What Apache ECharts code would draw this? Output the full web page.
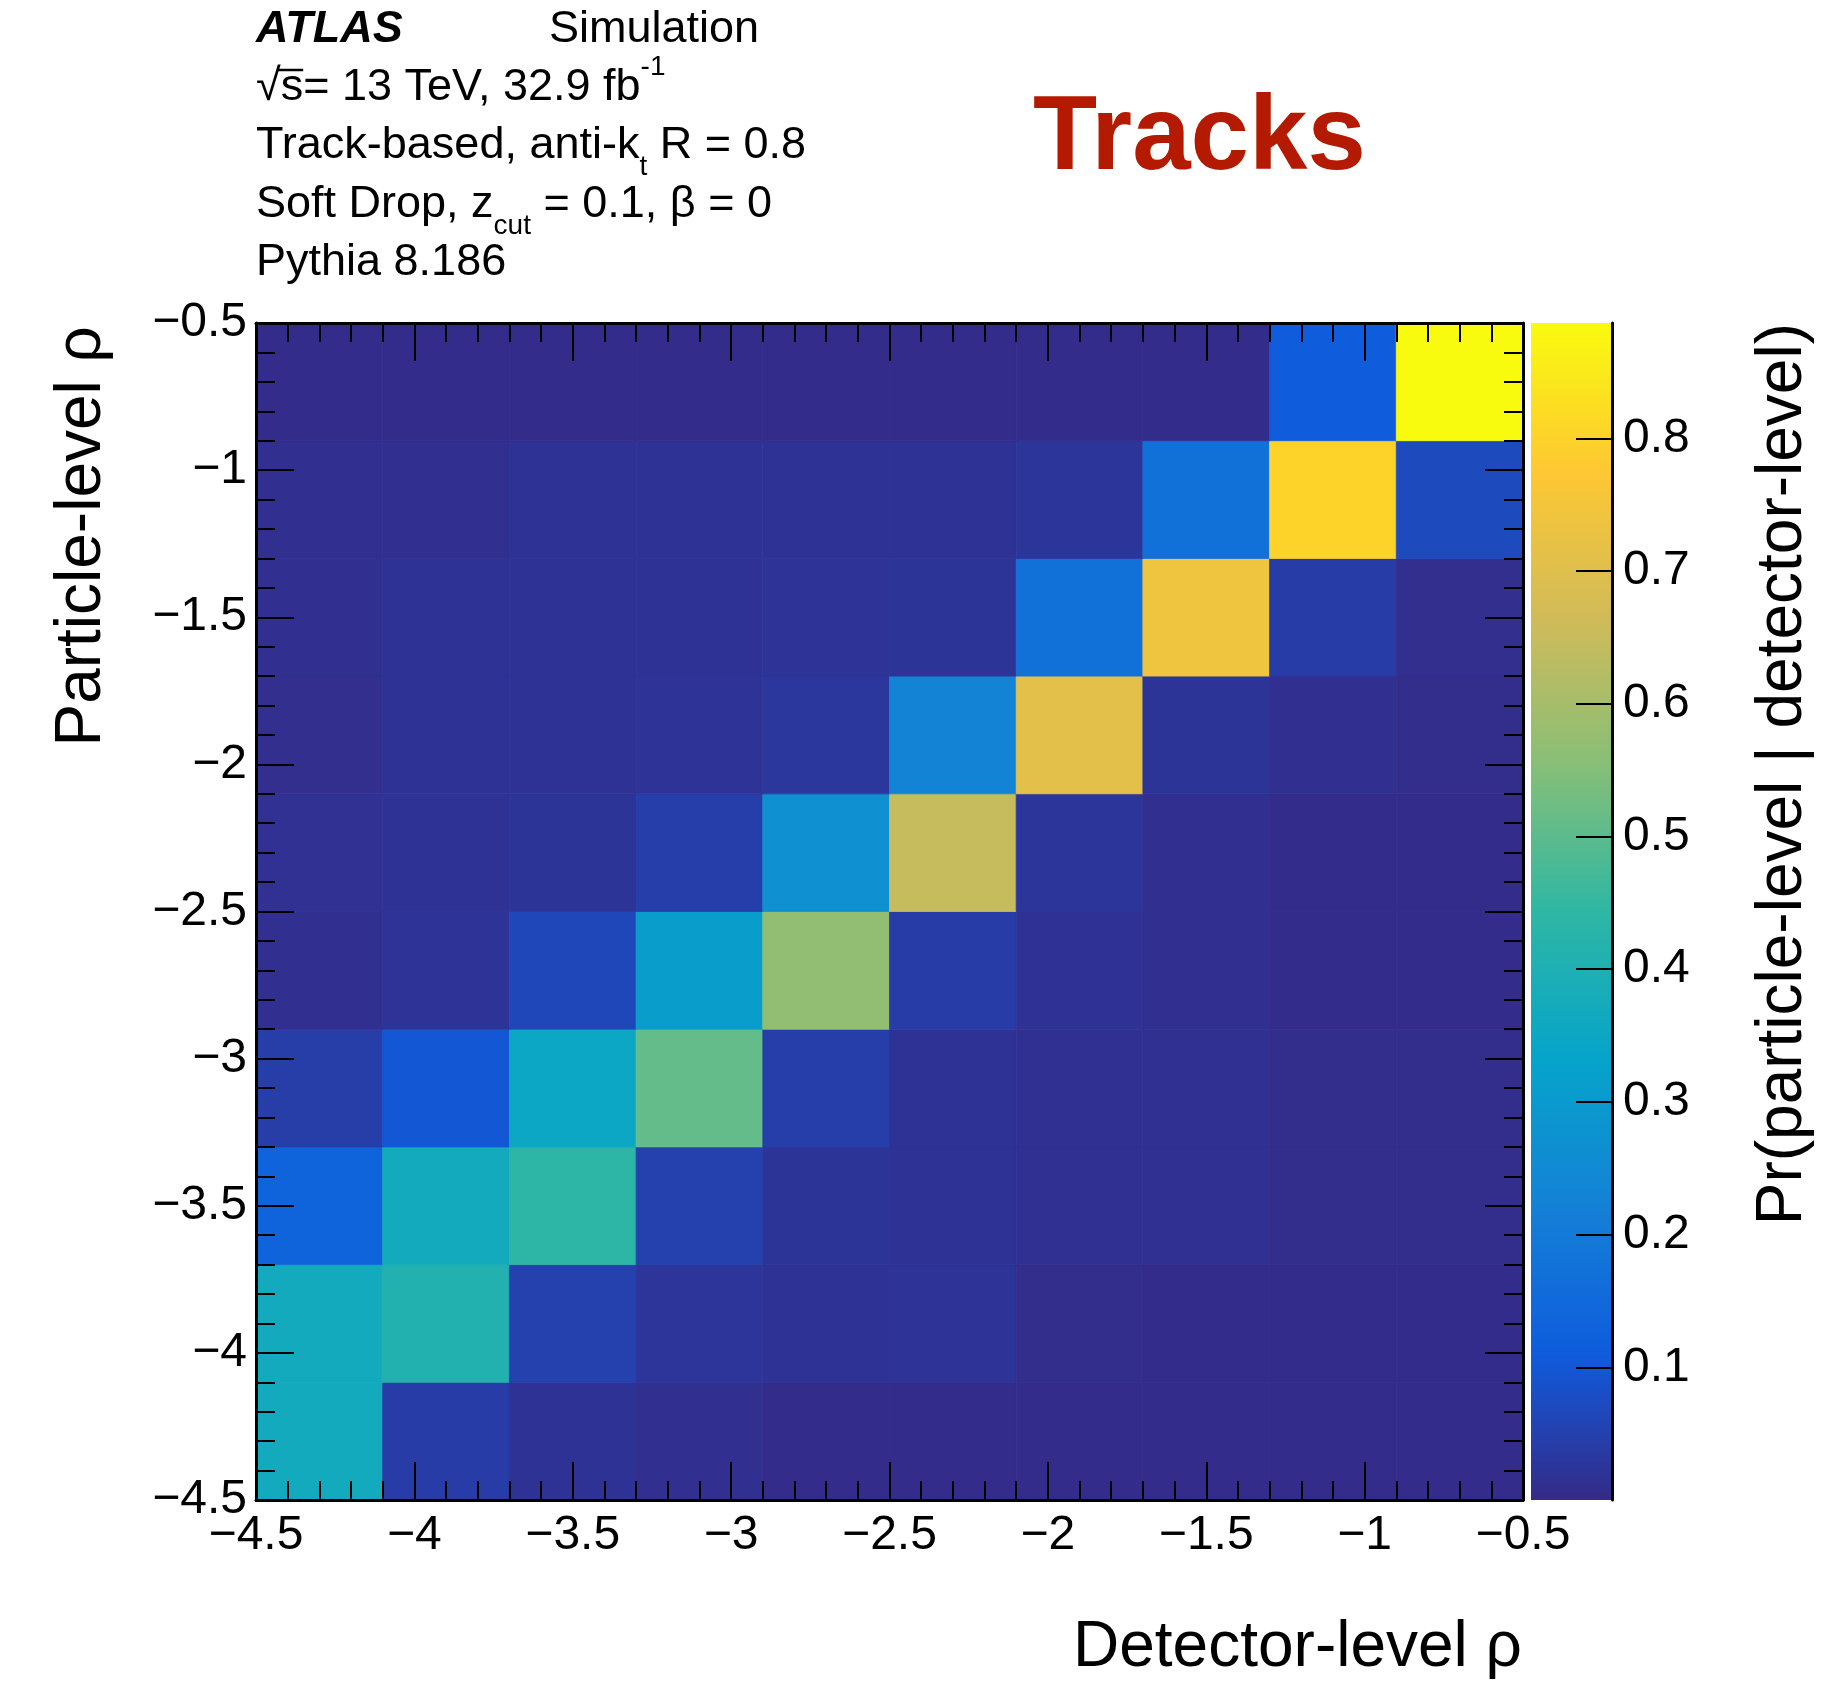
<!DOCTYPE html>
<html>
<head>
<meta charset="utf-8">
<script src="https://cdn.jsdelivr.net/npm/echarts@6/dist/echarts.min.js"></script>
<style>
  html, body { margin: 0; padding: 0; background: #ffffff; }
  #chart { width: 1824px; height: 1685px; }
</style>
</head>
<body>
<div id="chart"></div>
<script>
// Bin edges in rho, identical for detector level (x) and particle level (y)
const binEdges = [-4.5, -4.1, -3.7, -3.3, -2.9, -2.5, -2.1, -1.7, -1.3, -0.9, -0.5];

// Pr(particle-level | detector-level): one array per particle-level bin,
// each listing the detector-level bins from -4.5 to -0.5
const particle_m45_m41 = [0.370, 0.040, 0.018, 0.012, 0.005, 0.004, 0.004, 0.004, 0.004, 0.004];
const particle_m41_m37 = [0.370, 0.410, 0.050, 0.024, 0.018, 0.020, 0.006, 0.005, 0.005, 0.005];
const particle_m37_m33 = [0.135, 0.370, 0.440, 0.050, 0.022, 0.018, 0.014, 0.014, 0.006, 0.006];
const particle_m33_m29 = [0.042, 0.100, 0.350, 0.510, 0.045, 0.018, 0.014, 0.014, 0.006, 0.006];
const particle_m29_m25 = [0.012, 0.020, 0.065, 0.310, 0.570, 0.040, 0.017, 0.012, 0.005, 0.005];
const particle_m25_m21 = [0.015, 0.018, 0.022, 0.045, 0.270, 0.650, 0.025, 0.012, 0.005, 0.005];
const particle_m21_m17 = [0.010, 0.018, 0.018, 0.020, 0.028, 0.230, 0.710, 0.022, 0.012, 0.006];
const particle_m17_m13 = [0.012, 0.018, 0.018, 0.018, 0.020, 0.022, 0.170, 0.740, 0.040, 0.010];
const particle_m13_m09 = [0.012, 0.012, 0.018, 0.018, 0.018, 0.018, 0.025, 0.170, 0.800, 0.070];
const particle_m09_m05 = [0.005, 0.005, 0.005, 0.005, 0.005, 0.005, 0.005, 0.005, 0.110, 0.887];

// bottom to top
const particleRows = [
  particle_m45_m41, particle_m41_m37, particle_m37_m33, particle_m33_m29, particle_m29_m25,
  particle_m25_m21, particle_m21_m17, particle_m17_m13, particle_m13_m09, particle_m09_m05
];

// z range of the colour scale and its labelled ticks
const zRange = [0, 0.887];
const zTicks = [0.1, 0.2, 0.3, 0.4, 0.5, 0.6, 0.7, 0.8];

// ROOT "bird" palette stops
const birdPalette = ['#352a87', '#0f5cdd', '#1481d6', '#06a4ca', '#2eb7a4',
                     '#87bf77', '#d1bb59', '#fec832', '#f9fb0e'];

const FONT = '"Liberation Sans", Arial, Helvetica, sans-serif';
const minusFmt = v => (v < 0 ? '\u2212' : '') + String(Math.abs(+v.toFixed(3)));

// cells: [xLow, xHigh, yLow, yHigh, probability]
const cells = [];
particleRows.forEach((row, i) => {
  row.forEach((p, j) => {
    cells.push([binEdges[j], binEdges[j + 1], binEdges[i], binEdges[i + 1], p]);
  });
});

const chart = echarts.init(document.getElementById('chart'), null, { renderer: 'canvas' });

const tickStyle = { color: '#000', width: 2 };
function frameAxis(extra) {
  return Object.assign({
    gridIndex: 0,
    type: 'value',
    z: 10,
    min: binEdges[0],
    max: binEdges[binEdges.length - 1],
    interval: 0.5,
    axisLine: { show: true, onZero: false, lineStyle: { color: '#000', width: 3 } },
    axisTick: { show: true, inside: true, length: 38, lineStyle: tickStyle },
    minorTick: { show: true, splitNumber: 5, length: 19, lineStyle: tickStyle },
    splitLine: { show: false },
    minorSplitLine: { show: false }
  }, extra);
}

const labelStyle = { color: '#000', fontSize: 48, fontFamily: FONT };

const rich = {
  n: { fontSize: 45, fontFamily: FONT, lineHeight: 70, verticalAlign: 'middle', color: '#000' },
  bi: { fontSize: 45, fontFamily: FONT, fontStyle: 'italic', fontWeight: 'bold', lineHeight: 70, verticalAlign: 'middle', color: '#000' },
  sup: { fontSize: 28, fontFamily: FONT, lineHeight: 40, verticalAlign: 'top', color: '#000' },
  sub: { fontSize: 28, fontFamily: FONT, lineHeight: 28, verticalAlign: 'bottom', color: '#000' },
  sub2: { fontSize: 28, fontFamily: FONT, lineHeight: 20, verticalAlign: 'bottom', color: '#000' }
};
function infoLine(text, x, baseline) {
  return { type: 'text', x: x, y: baseline - 49, silent: true,
           style: { text: text, rich: rich, align: 'left', verticalAlign: 'top' } };
}

// overbar of the square root, placed from measured glyph widths
const measureCtx = document.createElement('canvas').getContext('2d');
measureCtx.font = '45px ' + FONT;
const rootW = measureCtx.measureText('\u221A').width;
const sW = measureCtx.measureText('s').width;
const infoLeft = 256;

const option = {
  animation: false,
  backgroundColor: '#ffffff',
  textStyle: { fontFamily: FONT },
  grid: [
    { left: 256, top: 323, width: 1267, height: 1177, containLabel: false, outerBoundsMode: 'none' },
    { left: 1531, top: 323, width: 81, height: 1177, containLabel: false, outerBoundsMode: 'none' }
  ],
  xAxis: [
    frameAxis({ position: 'bottom', axisLabel: Object.assign({ margin: 12, formatter: minusFmt }, labelStyle) }),
    frameAxis({ position: 'top', axisLabel: { show: false } }),
    { gridIndex: 1, type: 'value', min: 0, max: 1, show: false }
  ],
  yAxis: [
    frameAxis({ position: 'left', axisLabel: Object.assign({ margin: 9, formatter: minusFmt }, labelStyle) }),
    frameAxis({ position: 'right', axisLabel: { show: false } }),
    {
      gridIndex: 1, type: 'value', position: 'right', z: 10,
      min: zRange[0], max: zRange[1],
      axisLine: { show: true, onZero: false, lineStyle: { color: '#000', width: 3 } },
      axisTick: { show: true, inside: true, length: 36, customValues: zTicks, lineStyle: tickStyle },
      axisLabel: Object.assign({ margin: 11, customValues: zTicks, formatter: v => v.toFixed(1) }, labelStyle),
      splitLine: { show: false }
    }
  ],
  visualMap: {
    show: false,
    type: 'continuous',
    seriesIndex: 0,
    dimension: 4,
    min: zRange[0],
    max: zRange[1],
    inRange: { color: birdPalette }
  },
  series: [
    {
      name: 'migration',
      type: 'custom',
      xAxisIndex: 0,
      yAxisIndex: 0,
      z: 2,
      clip: true,
      encode: { x: [0, 1], y: [2, 3] },
      data: cells,
      renderItem: function (params, api) {
        const p0 = api.coord([api.value(0), api.value(3)]);
        const p1 = api.coord([api.value(1), api.value(2)]);
        const c = api.visual('color');
        return {
          type: 'rect',
          shape: { x: p0[0], y: p0[1], width: p1[0] - p0[0], height: p1[1] - p0[1] },
          style: { fill: c, stroke: c, lineWidth: 0.8 }
        };
      }
    },
    {
      name: 'palette',
      type: 'custom',
      xAxisIndex: 2,
      yAxisIndex: 2,
      z: 2,
      encode: { x: [0, 1], y: [2, 3] },
      data: [[0, 1, zRange[0], zRange[1]]],
      renderItem: function (params, api) {
        const p0 = api.coord([api.value(0), api.value(3)]);
        const p1 = api.coord([api.value(1), api.value(2)]);
        return {
          type: 'rect',
          shape: { x: p0[0], y: p0[1], width: p1[0] - p0[0], height: p1[1] - p0[1] },
          style: {
            fill: {
              type: 'linear', x: 0, y: 1, x2: 0, y2: 0, global: false,
              colorStops: birdPalette.map((c, i) => ({ offset: i / (birdPalette.length - 1), color: c }))
            }
          }
        };
      }
    }
  ],
  graphic: [
    infoLine('{bi|ATLAS}', infoLeft, 44),
    infoLine('{n|Simulation}', 549, 44),
    infoLine('{n|\u221As= 13 TeV, 32.9 fb}{sup|-1}', infoLeft, 102),
    {
      type: 'line', silent: true,
      shape: { x1: infoLeft + rootW - 3, y1: 70, x2: infoLeft + rootW + sW, y2: 70 },
      style: { stroke: '#000', lineWidth: 2.5 }
    },
    infoLine('{n|Track-based, anti-k}{sub|t}{n| R = 0.8}', infoLeft, 160),
    infoLine('{n|Soft Drop, z}{sub2|cut}{n| = 0.1, \u03B2 = 0}', infoLeft, 219),
    infoLine('{n|Pythia 8.186}', infoLeft, 277),
    {
      type: 'text', x: 1033, y: 140, silent: true,
      style: { text: 'Tracks', font: 'bold 105px ' + FONT, fill: '#b41a00', align: 'left', verticalAlign: 'middle' }
    },
    {
      type: 'text', x: 1522, y: 1648, silent: true,
      style: { text: 'Detector-level \u03C1', font: '64px ' + FONT, fill: '#000', align: 'right', verticalAlign: 'middle' }
    },
    {
      type: 'text', x: 82, y: 326, rotation: Math.PI / 2, silent: true,
      style: { text: 'Particle-level \u03C1', font: '64px ' + FONT, fill: '#000', align: 'right', verticalAlign: 'middle' }
    },
    {
      type: 'text', x: 1783, y: 323, rotation: Math.PI / 2, silent: true,
      style: { text: 'Pr(particle-level | detector-level)', font: '64px ' + FONT, fill: '#000', align: 'right', verticalAlign: 'middle' }
    }
  ]
};

chart.setOption(option);
</script>
</body>
</html>
